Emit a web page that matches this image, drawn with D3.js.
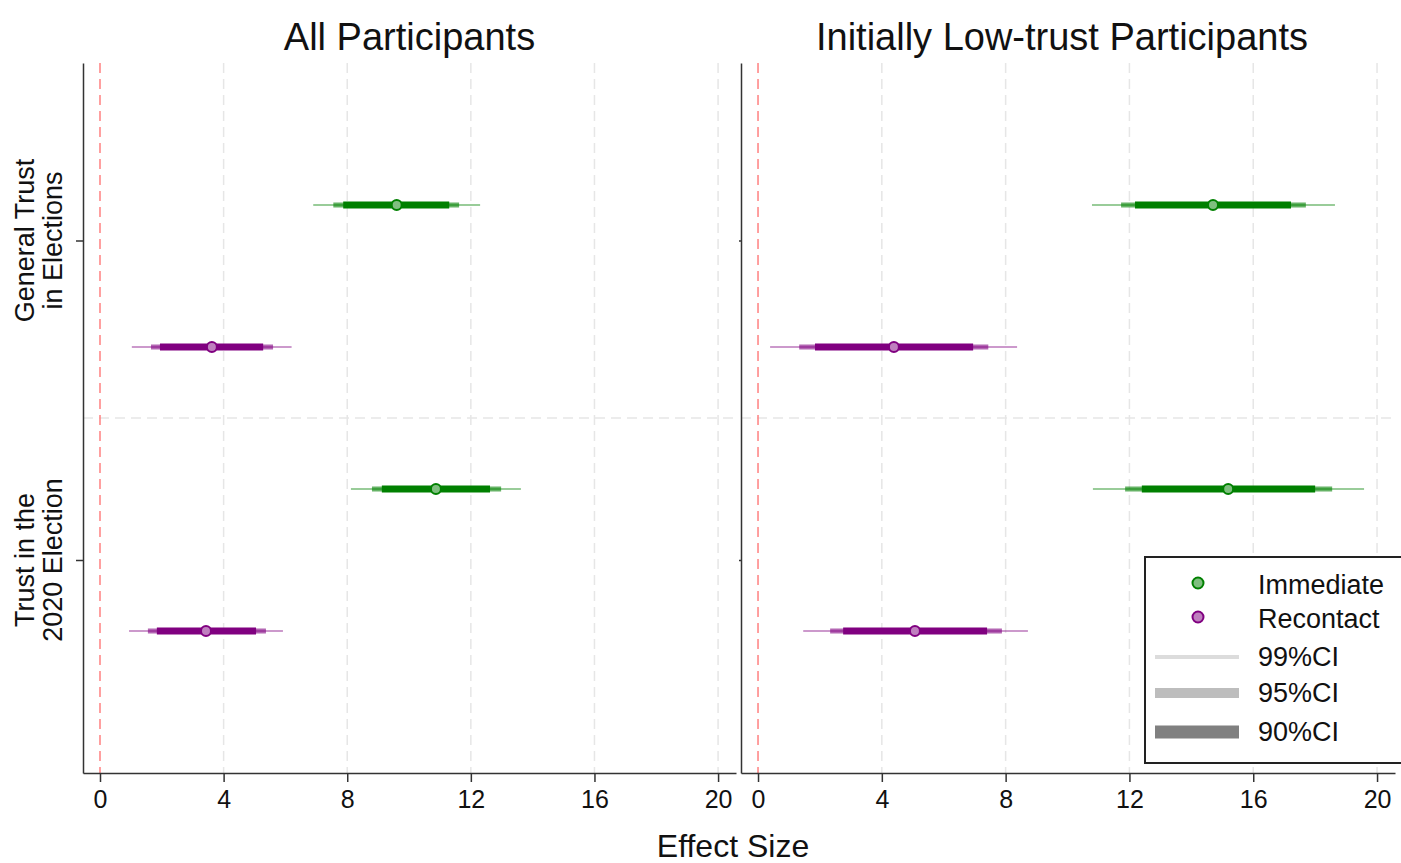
<!DOCTYPE html>
<html>
<head>
<meta charset="utf-8">
<script src="https://cdn.jsdelivr.net/npm/d3@7"></script>
<style>
  body { margin: 0; background: #fff; }
  svg { font-family: "Liberation Sans", Arial, sans-serif; }
</style>
</head>
<body>
<div id="chart"></div>
<script>
const panels = ['All Participants', 'Initially Low-trust Participants'];
const outcomes = [['General Trust', 'in Elections'], ['Trust in the', '2020 Election']];
const outcomeTicks = [1.25, 3.5];
const series = ['Immediate', 'Recontact'];
const xTicks = [0, 4, 8, 12, 16, 20];

// rows: GT Immediate, GT Recontact, 2020 Immediate, 2020 Recontact
const rowSeries = [0, 1, 0, 1];
const rowPos = [1, 2, 3, 4];

const est = [
    [9.6, 3.62, 10.87, 3.43],
    [14.7, 4.39, 15.19, 5.07]
];
const lo90 = [[7.87, 1.94, 9.12, 1.84], [12.18, 1.84, 12.4, 2.75]];
const hi90 = [[11.3, 5.28, 12.62, 5.05], [17.22, 6.95, 18.0, 7.4]];
const lo95 = [[7.55, 1.65, 8.8, 1.55], [11.73, 1.33, 11.86, 2.33]];
const hi95 = [[11.62, 5.6, 12.98, 5.37], [17.7, 7.44, 18.55, 7.88]];
const lo99 = [[6.9, 1.03, 8.12, 0.94], [10.79, 0.39, 10.82, 1.46]];
const hi99 = [[12.3, 6.2, 13.62, 5.92], [18.64, 8.37, 19.58, 8.72]];

const colors = ['#008000', '#800080'];
const fills = ['#7fbf7f', '#bf7fbf'];

const width = 1401, height = 863;
const plotTop = 63, plotBottom = 773;
const panelX = [[83, 736], [741, 1395]];

const svg = d3.select('#chart')
    .append('svg')
    .attr('width', width)
    .attr('height', height);

const yScale = d3.scaleLinear()
    .domain([0, 5])
    .range([plotTop, plotBottom]);

panels.forEach((title, p) => {
    const xScale = d3.scaleLinear()
        .domain([-0.55, 20.58])
        .range(panelX[p]);

    const g = svg.append('g');

    // vertical grid
    g.selectAll('.vgrid')
        .data(xTicks.filter(d => d > 0))
        .enter()
        .append('line')
        .attr('x1', d => xScale(d))
        .attr('x2', d => xScale(d))
        .attr('y1', plotTop)
        .attr('y2', plotBottom)
        .attr('stroke', '#e6e6e6')
        .attr('stroke-width', 1.5)
        .attr('stroke-dasharray', '10,6');

    // horizontal separator
    g.append('line')
        .attr('x1', panelX[p][0])
        .attr('x2', panelX[p][1])
        .attr('y1', yScale(2.5))
        .attr('y2', yScale(2.5))
        .attr('stroke', '#e6e6e6')
        .attr('stroke-width', 1.5)
        .attr('stroke-dasharray', '10,6');

    // zero line
    g.append('line')
        .attr('x1', xScale(0))
        .attr('x2', xScale(0))
        .attr('y1', plotTop)
        .attr('y2', plotBottom)
        .attr('stroke', '#ff8080')
        .attr('stroke-width', 1.5)
        .attr('stroke-dasharray', '10,6');

    const rows = est[p].map((e, i) => ({
        s: rowSeries[i], pos: rowPos[i], est: e,
        lo90: lo90[p][i], hi90: hi90[p][i],
        lo95: lo95[p][i], hi95: hi95[p][i],
        lo99: lo99[p][i], hi99: hi99[p][i]
    }));

    const ciStyles = [
        {lo: 'lo99', hi: 'hi99', w: 2, o: 0.4},
        {lo: 'lo95', hi: 'hi95', w: 5, o: 0.6},
        {lo: 'lo90', hi: 'hi90', w: 7, o: 1}
    ];
    ciStyles.forEach(c => {
        g.selectAll('.ci' + c.lo)
            .data(rows)
            .enter()
            .append('line')
            .attr('x1', d => xScale(d[c.lo]))
            .attr('x2', d => xScale(d[c.hi]))
            .attr('y1', d => yScale(d.pos))
            .attr('y2', d => yScale(d.pos))
            .attr('stroke', d => colors[d.s])
            .attr('stroke-opacity', c.o)
            .attr('stroke-width', c.w);
    });

    g.selectAll('circle')
        .data(rows)
        .enter()
        .append('circle')
        .attr('cx', d => xScale(d.est))
        .attr('cy', d => yScale(d.pos))
        .attr('r', 5)
        .attr('fill', d => fills[d.s])
        .attr('stroke', d => colors[d.s])
        .attr('stroke-width', 2);

    // axes
    const xAxis = g.append('g')
        .attr('transform', `translate(0,${plotBottom})`)
        .call(d3.axisBottom(xScale).tickValues(xTicks).tickSize(9).tickSizeOuter(0).tickPadding(8));
    xAxis.select('.domain').attr('stroke', '#333').attr('stroke-width', 1.5);
    xAxis.selectAll('.tick line').attr('stroke', '#333').attr('stroke-width', 1.5);
    xAxis.selectAll('.tick text').attr('font-size', 25).attr('fill', '#111')
        .attr('font-family', '"Liberation Sans Narrow", "Liberation Sans", Arial, sans-serif');

    const yAxis = g.append('g')
        .attr('transform', `translate(${panelX[p][0]},0)`)
        .call(d3.axisLeft(yScale).tickValues(outcomeTicks).tickSize(p === 0 ? 7 : 2).tickSizeOuter(0).tickFormat(''));
    yAxis.select('.domain').attr('stroke', '#333').attr('stroke-width', 1.5);
    yAxis.selectAll('.tick line').attr('stroke', '#333').attr('stroke-width', 1.5);

    svg.append('text')
        .attr('x', (panelX[p][0] + panelX[p][1]) / 2 - (p === 1 ? 6 : 0))
        .attr('y', 50)
        .attr('text-anchor', 'middle')
        .attr('font-size', 38)
        .attr('fill', '#111')
        .text(title);
});

// y category labels
outcomes.forEach((lines, i) => {
    const t = svg.append('text')
        .attr('transform', `translate(0,${yScale(outcomeTicks[i])}) rotate(-90)`)
        .attr('text-anchor', 'middle')
        .attr('font-size', 27)
        .attr('fill', '#111');
    lines.forEach((l, j) => {
        t.append('tspan')
            .attr('x', 0)
            .attr('y', 34 + j * 28)
            .text(l);
    });
});

svg.append('text')
    .attr('x', 733)
    .attr('y', 857)
    .attr('text-anchor', 'middle')
    .attr('font-size', 32)
    .attr('fill', '#111')
    .text('Effect Size');

// legend
const lg = svg.append('g');
lg.append('rect')
    .attr('x', 1145)
    .attr('y', 557)
    .attr('width', 270)
    .attr('height', 206)
    .attr('fill', '#fff')
    .attr('stroke', '#222')
    .attr('stroke-width', 2);

series.forEach((s, i) => {
    lg.append('circle')
        .attr('cx', 1198)
        .attr('cy', 583 + i * 34)
        .attr('r', 5.5)
        .attr('fill', fills[i])
        .attr('stroke', colors[i])
        .attr('stroke-width', 2);
    lg.append('text')
        .attr('x', 1258)
        .attr('y', 594 + i * 34)
        .attr('font-size', 27)
        .attr('fill', '#111')
        .text(s);
});

const ciLegend = ['99%CI', '95%CI', '90%CI'];
const ciLegendColor = ['#dcdcdc', '#bdbdbd', '#808080'];
const ciLegendWidth = [4, 10, 13];
const ciLegendY = [657, 693, 732];
ciLegend.forEach((c, i) => {
    lg.append('line')
        .attr('x1', 1155)
        .attr('x2', 1239)
        .attr('y1', ciLegendY[i])
        .attr('y2', ciLegendY[i])
        .attr('stroke', ciLegendColor[i])
        .attr('stroke-width', ciLegendWidth[i]);
    lg.append('text')
        .attr('x', 1258)
        .attr('y', ciLegendY[i] + 9)
        .attr('font-size', 27)
        .attr('fill', '#111')
        .text(c);
});
</script>
</body>
</html>
